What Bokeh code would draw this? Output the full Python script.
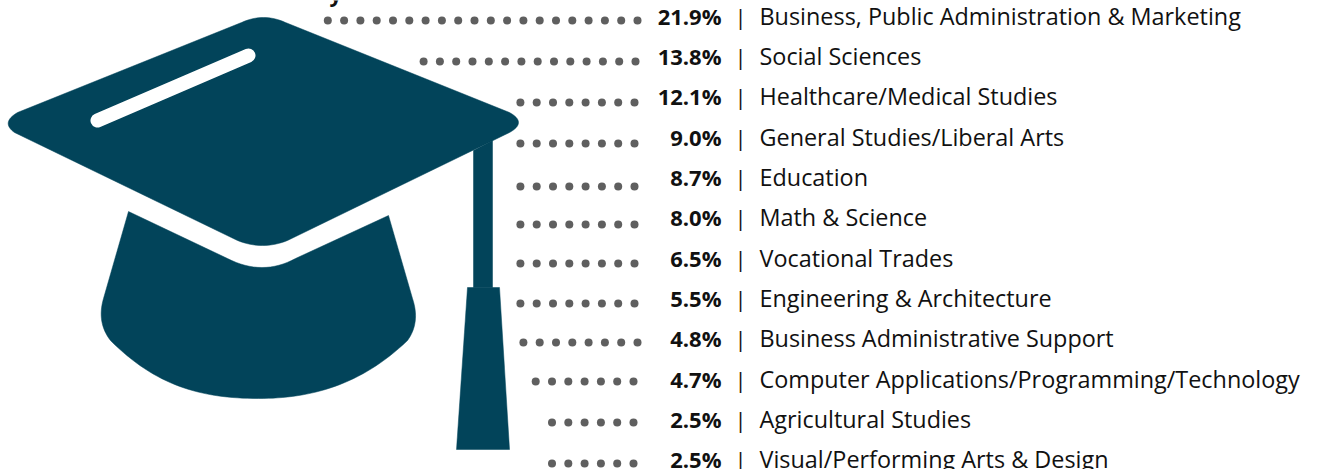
from bokeh.plotting import figure
from bokeh.models import Range1d
from bokeh.core.properties import value
from bokeh.embed import file_html
from bokeh.resources import INLINE

shares = ["21.9%", "13.8%", "12.1%", "9.0%", "8.7%", "8.0%", "6.5%", "5.5%", "4.8%", "4.7%", "2.5%", "2.5%"]
fields = ["Business, Public Administration & Marketing", "Social Sciences", "Healthcare/Medical Studies",
          "General Studies/Liberal Arts", "Education", "Math & Science", "Vocational Trades",
          "Engineering & Architecture", "Business Administrative Support",
          "Computer Applications/Programming/Technology", "Agricultural Studies",
          "Visual/Performing Arts & Design"]
dot_counts = [20, 14, 8, 8, 8, 8, 8, 8, 8, 7, 6, 6]
dot_end_x = [637, 635, 634, 634, 634, 634, 634, 634, 637, 633, 633, 633]
dot_row_y = [20, 61, 102, 143, 186, 224, 263, 303, 342, 381, 422, 463]
text_row_y = [15, 55, 95, 136, 176, 216, 257, 297, 337, 378, 418, 458]
title_tail = ["y"]

NAVY = "#02445a"
GREY = "#5f5f5f"
INK = "#111111"
FONT = "Open Sans"


def quad(p0, c, p1, n=16):
    return [((1 - t) ** 2 * p0[0] + 2 * t * (1 - t) * c[0] + t ** 2 * p1[0],
             (1 - t) ** 2 * p0[1] + 2 * t * (1 - t) * c[1] + t ** 2 * p1[1])
            for t in (i / n for i in range(n + 1))]


def cubic(p0, c0, c1, p1, n=32):
    return [((1 - t) ** 3 * p0[0] + 3 * t * (1 - t) ** 2 * c0[0] + 3 * t ** 2 * (1 - t) * c1[0] + t ** 3 * p1[0],
             (1 - t) ** 3 * p0[1] + 3 * t * (1 - t) ** 2 * c0[1] + 3 * t ** 2 * (1 - t) * c1[1] + t ** 3 * p1[1])
            for t in (i / n for i in range(n + 1))]


board = (quad((241, 22), (263, 12), (285, 22)) + quad((509, 112), (527, 122), (509, 132))
         + quad((287, 240), (262, 250), (237, 240)) + quad((14, 132), (0, 122), (17, 112)))
body = ([(128, 211), (227, 258)] + quad((227, 258), (262, 276), (295, 258))
        + [(388, 215), (412, 298)] + quad((412, 298), (420, 322), (407, 340))
        + cubic((407, 340), (360, 385), (310, 398), (258, 398))
        + cubic((258, 398), (200, 398), (155, 385), (110, 340))
        + quad((110, 340), (96, 322), (103, 298)))
stem = [(473, 150), (492, 140), (492, 287), (473, 287)]
tassel = [(467, 287), (499, 287), (509, 449), (456, 449)]

p = figure(width=1326, height=469, output_backend="svg", toolbar_location=None,
           x_range=Range1d(0, 1326), y_range=Range1d(469, 0),
           min_border=0, outline_line_color=None, background_fill_color="white",
           styles={"position": "absolute", "left": "0", "top": "0"})
p.axis.visible = False
p.grid.visible = False

for shape in (board, body, stem, tassel):
    p.patch([q[0] for q in shape], [q[1] for q in shape], fill_color=NAVY, line_color=NAVY, line_width=0.5)
p.line([248, 97], [55, 120], line_color="white", line_width=14, line_cap="round")

xs, ys = [], []
for count, end, y in zip(dot_counts, dot_end_x, dot_row_y):
    for i in range(count):
        xs.append(end - i * 16.3)
        ys.append(y)
p.scatter(xs, ys, size=8, fill_color=GREY, line_color=None)

n = len(shares)
p.text([721] * n, text_row_y, text=shares, text_align="right", text_baseline="middle",
       text_font=value(FONT), text_font_style="bold", text_font_size="22px", text_color=INK)
p.text([740] * n, text_row_y, text=["|"] * n, text_align="center", text_baseline="middle",
       text_font=value(FONT), text_font_size="22px", text_color=INK)
p.text([759] * n, text_row_y, text=fields, text_align="left", text_baseline="middle",
       text_font=value(FONT), text_font_size="23.4px", text_color=INK)
p.text([329], [-8], text=title_tail, text_align="left", text_baseline="alphabetic",
       text_font=value(FONT), text_font_style="bold", text_font_size="22px", text_color=INK)

open("out.html", "w").write(file_html(p, INLINE))
